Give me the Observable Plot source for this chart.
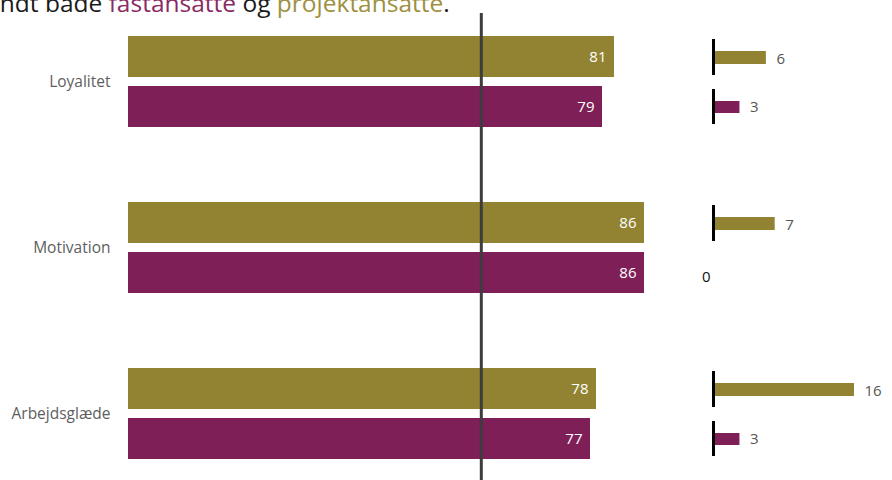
<!DOCTYPE html>
<html>
<head>
<meta charset="utf-8">
<script src="https://cdn.jsdelivr.net/npm/d3@7"></script>
<script src="https://cdn.jsdelivr.net/npm/@observablehq/plot@0.6"></script>
<style>
  html, body { margin: 0; padding: 0; background: #fff; }
  #wrap { position: relative; width: 892px; height: 480px; overflow: hidden; font-family: "Open Sans", sans-serif; }
  #title { position: absolute; top: -9px; left: -35px; font-size: 24.5px; line-height: 24px; color: #1a1a1a; white-space: nowrap; z-index: 2; }
  #title .fast { color: #8a2a64; }
  #title .projekt { color: #9e9040; }
  #main { position: absolute; left: 0; top: 0; }
  #side { position: absolute; left: 698px; top: 0; }
</style>
</head>
<body>
<div id="wrap">
  <div id="title">blandt både <span class="fast">fastansatte</span> og <span class="projekt">projektansatte</span>.</div>
  <div id="main"></div>
  <div id="side"></div>
</div>
<script>
// Index scores per dimension for the two employee groups
const categories = ["Loyalitet", "Motivation", "Arbejdsglæde"];
const projektScores = [81, 86, 78];
const fastScores = [79, 86, 77];
// Change figures shown in the small bars at the right
const projektChange = [6, 7, 16];
const fastChange = [3, 0, 3];
// Reference level drawn as the vertical line
const referenceLevel = 58.8;

const olive = "#928332";
const purple = "#7e1f57";

const projektRows = categories.map((c, i) => ({category: c, value: projektScores[i], change: projektChange[i]}));
const fastRows = categories.map((c, i) => ({category: c, value: fastScores[i], change: fastChange[i]}));

const yScale = {domain: categories, paddingInner: 0.449, paddingOuter: 0};
const frame = {height: 480, marginTop: 35, marginBottom: 19};

const main = Plot.plot({
  ...frame,
  width: 698,
  marginLeft: 128,
  marginRight: 0,
  x: {domain: [0, 95], axis: null},
  y: {...yScale, label: null, tickSize: 0, tickPadding: 18},
  style: {fontFamily: "Open Sans", fontSize: "15.5px", color: "#5e5e5e", background: "transparent"},
  marks: [
    Plot.barX(projektRows, {x: "value", y: "category", fill: olive, insetBottom: 50}),
    Plot.barX(fastRows, {x: "value", y: "category", fill: purple, insetTop: 50}),
    Plot.text(projektRows, {x: "value", y: "category", text: d => String(d.value), dx: -8, dy: -25, textAnchor: "end", fill: "white", fontSize: 15}),
    Plot.text(fastRows, {x: "value", y: "category", text: d => String(d.value), dx: -8, dy: 25, textAnchor: "end", fill: "white", fontSize: 15}),
    Plot.ruleX([referenceLevel], {stroke: "#3d3d3d", strokeWidth: 3, insetTop: -22, insetBottom: -19})
  ]
});
document.getElementById("main").appendChild(main);

const side = Plot.plot({
  ...frame,
  width: 194,
  marginLeft: 15,
  marginRight: 38,
  x: {domain: [0, 16], axis: null},
  y: {...yScale, axis: null},
  style: {fontFamily: "Open Sans", fontSize: "14px", color: "#555", background: "transparent"},
  marks: [
    Plot.barX(projektRows, {x: "change", y: "category", fill: olive, insetTop: 15, insetBottom: 63}),
    Plot.barX(fastRows, {x: "change", y: "category", fill: purple, insetTop: 65, insetBottom: 14}),
    // baseline ticks at zero for each non-zero change
    Plot.tickX(projektRows.filter(d => d.change > 0), {x: d => 0, y: "category", stroke: "#000", strokeWidth: 3, insetTop: 3, insetBottom: 52}),
    Plot.tickX(fastRows.filter(d => d.change > 0), {x: d => 0, y: "category", stroke: "#000", strokeWidth: 3, insetTop: 53, insetBottom: 3}),
    Plot.text(projektRows, {x: "change", y: "category", text: d => String(d.change), dx: 10, dy: -23, textAnchor: "start", fill: "#555", fontSize: 15}),
    Plot.text(fastRows.filter(d => d.change > 0), {x: "change", y: "category", text: d => String(d.change), dx: 10, dy: 25, textAnchor: "start", fill: "#555", fontSize: 15}),
    Plot.text(fastRows.filter(d => d.change === 0), {x: "change", y: "category", text: d => String(d.change), dx: -3, dy: 29, textAnchor: "end", fill: "#111", fontSize: 15})
  ]
});
document.getElementById("side").appendChild(side);
</script>
</body>
</html>
